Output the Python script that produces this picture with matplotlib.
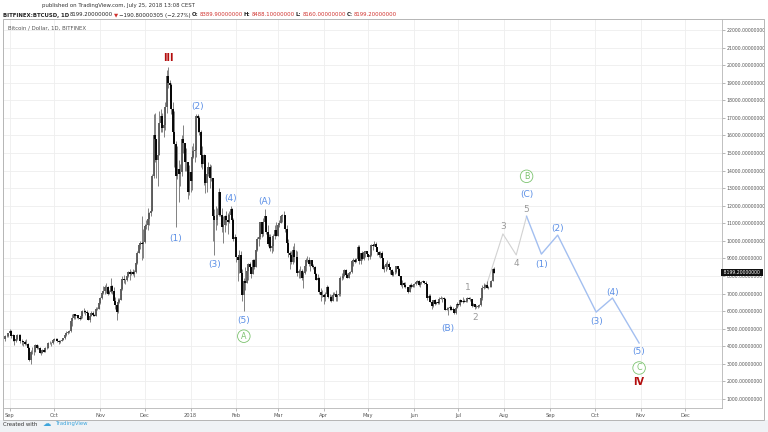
import matplotlib
matplotlib.use("Agg")
import matplotlib.pyplot as plt
import matplotlib.dates as mdates
from matplotlib.patches import Rectangle
import matplotlib.transforms as mtransforms
import numpy as np
import pandas as pd

# ---- daily BITFINEX BTCUSD candles, 2017-08-29 .. 2018-07-25 ----
first_open = 4390
close = [4580, 4570, 4740,
         # Sep
         4900, 4580, 4630, 4300, 4430, 4620, 4650, 4300, 4320, 4230,
         4160, 4130, 3880, 3200, 3700, 3700, 3700, 4100, 3900, 3900,
         3620, 3620, 3790, 3680, 3930, 3890, 4210, 4200, 4170, 4360,
         # Oct
         4400, 4400, 4310, 4220, 4330, 4380, 4450, 4620, 4780, 4790,
         4850, 5440, 5640, 5830, 5700, 5760, 5600, 5580, 5710, 6000,
         6020, 5980, 5900, 5520, 5750, 5900, 5780, 5750, 6150, 6130, 6450,
         # Nov
         6740, 7030, 7160, 7380, 7400, 6980, 7120, 7460, 7150, 6600,
         6350, 5950, 6550, 6630, 7280, 7820, 7790, 7800, 8010, 8250,
         8100, 8250, 8100, 8250, 8750, 9330, 9750, 9900, 9850, 9950,
         # Dec
         10850, 10900, 11250, 11600, 11700, 13700, 16000, 15800, 14600, 14900,
         16700, 17100, 16400, 16600, 17600, 19400, 19000, 18900, 17500, 16200,
         15500, 13700, 14100, 13800, 13900, 15800, 15600, 14500, 14500, 12800, 13900,
         # Jan
         13400, 14800, 15100, 15200, 17100, 17000, 16200, 14900, 14400, 14900,
         13300, 13800, 14200, 13600, 13600, 11400, 11200, 11200, 11500, 12800,
         11500, 10800, 10900, 11400, 11200, 11100, 11500, 11800, 11200, 10100, 10200,
         # Feb
         9100, 8900, 9200, 8200, 6900, 7700, 7600, 8300, 8700, 8500,
         8100, 8900, 8500, 9500, 10100, 10200, 11100, 10400, 11100, 11400,
         10500, 9800, 10200, 9600, 9700, 10300, 10600, 10300,
         # Mar
         10900, 11000, 11400, 11500, 11500, 10700, 9900, 9300, 9200, 8800,
         9500, 9100, 9100, 8200, 8300, 8300, 7900, 8200, 8600, 8900,
         8900, 8700, 8900, 8600, 8500, 8100, 7800, 7900, 7100, 6900, 6900,
         # Apr
         6800, 7000, 7400, 6800, 6800, 6600, 6900, 7000, 6800, 6900,
         6950, 7900, 7900, 8000, 8350, 8050, 7900, 8150, 8250, 8850,
         8900, 8800, 8950, 9650, 8850, 9300, 8950, 9350, 9400, 9250,
         # May
         9070, 9200, 9750, 9700, 9850, 9650, 9370, 9200, 9300, 9000,
         8400, 8500, 8700, 8700, 8500, 8350, 8050, 8250, 8250, 8550,
         8400, 8000, 7500, 7600, 7480, 7350, 7350, 7120, 7480, 7400, 7500,
         # Jun
         7530, 7640, 7720, 7500, 7630, 7650, 7690, 7620, 7530, 6770,
         6880, 6550, 6300, 6650, 6400, 6500, 6470, 6700, 6750, 6760,
         6720, 6050, 6150, 6200, 6250, 6080, 6150, 5880, 6200, 6390,
         # Jul
         6350, 6620, 6520, 6600, 6550, 6600, 6760, 6720, 6680, 6300,
         6400, 6250, 6230, 6280, 6360, 6740, 7320, 7380, 7470, 7330,
         7400, 7400, 7720, 8400, 8199.2]

high = [4650, 4640, 4770,
        4980, 4950, 4720, 4600, 4480, 4700, 4720, 4680, 4430, 4320,
        4350, 4400, 4180, 3950, 3780, 3940, 3800, 4150, 4150, 4050,
        3950, 3760, 3820, 3800, 3960, 3980, 4240, 4290, 4250, 4390,
        4470, 4480, 4460, 4380, 4370, 4430, 4490, 4640, 4890, 4900,
        4920, 5450, 5860, 5850, 5860, 5800, 5780, 5620, 5740, 6060,
        6190, 6080, 6060, 5980, 5800, 5990, 5990, 5850, 6230, 6220, 6470,
        6780, 7150, 7450, 7500, 7600, 7440, 7200, 7900, 7470, 7350,
        6800, 6500, 6750, 6750, 7370, 7980, 8050, 7850, 8060, 8300,
        8400, 8300, 8380, 8350, 8800, 9450, 9800, 10000, 11400, 10700,
        10950, 11200, 11850, 11650, 11900, 13800, 17200, 17300, 15800, 15700,
        17400, 17500, 17300, 16900, 17900, 19700, 19890, 19150, 19000, 17900,
        17400, 15700, 15400, 14600, 14400, 16000, 16600, 15600, 15300, 14500, 14300,
        13900, 15400, 15600, 15400, 17200, 17250, 17100, 16300, 15400, 14950,
        14900, 14100, 14500, 14400, 14300, 13600, 11800, 12000, 11900, 13000,
        12800, 11900, 11400, 11500, 11700, 11600, 11700, 12000, 11900, 11300, 10400,
        10200, 9200, 9500, 9400, 8400, 7900, 8500, 8600, 8750, 8800,
        8500, 8950, 8950, 9500, 10200, 10300, 11100, 11100, 11300, 11800,
        11300, 10900, 10400, 10400, 9900, 10400, 10900, 11100,
        11000, 11200, 11500, 11550, 11700, 11500, 10900, 10100, 9400, 9400,
        9700, 9900, 9500, 9400, 8400, 8600, 8400, 8300, 8700, 9000,
        9150, 9100, 8900, 8800, 8700, 8550, 8200, 8100, 7950, 7300, 7200,
        7000, 7100, 7500, 7450, 6950, 6900, 7100, 7100, 7200, 6950,
        6980, 8000, 8200, 8200, 8400, 8400, 8200, 8200, 8300, 8900,
        9000, 9000, 9000, 9750, 9750, 9300, 9400, 9400, 9450, 9430,
        9250, 9250, 9800, 9800, 9990, 9950, 9650, 9450, 9400, 9400,
        9000, 8650, 8800, 8900, 8800, 8500, 8400, 8300, 8350, 8600,
        8550, 8450, 8020, 7750, 7650, 7650, 7400, 7380, 7550, 7600, 7560,
        7600, 7700, 7760, 7760, 7650, 7700, 7750, 7700, 7700, 7500,
        6950, 6950, 6600, 6650, 6680, 6550, 6600, 6800, 6850, 6800,
        6800, 6750, 6250, 6250, 6350, 6300, 6250, 6150, 6300, 6500,
        6420, 6700, 6650, 6800, 6700, 6650, 6800, 6800, 6800, 6700,
        6450, 6400, 6350, 6350, 6400, 6800, 7480, 7580, 7560, 7700,
        7450, 7580, 7800, 8480, 8488.1]

low = [4300, 4520, 4540,
       4720, 4480, 4320, 4100, 4220, 4380, 4530, 4200, 4100, 4000,
       4100, 4050, 3780, 3190, 2980, 3550, 3520, 3700, 3850, 3850,
       3600, 3530, 3600, 3650, 3650, 3850, 3890, 4160, 4000, 4150,
       4290, 4340, 4230, 4150, 4180, 4300, 4350, 4440, 4570, 4730,
       4760, 4840, 5180, 5570, 5530, 5630, 5560, 5500, 5530, 5600,
       5880, 5800, 5650, 5520, 5400, 5730, 5700, 5700, 5700, 6060, 6100,
       6420, 6700, 6950, 6950, 7050, 6940, 6950, 7050, 7000, 6470,
       6140, 5500, 5900, 6450, 6640, 7230, 7630, 7550, 7720, 7960,
       7800, 8070, 8050, 7960, 8180, 8710, 9330, 9550, 8900, 9000,
       9900, 10700, 10600, 10900, 11400, 11700, 13600, 14500, 13600, 13100,
       14900, 16200, 16200, 15900, 16300, 17300, 18700, 17900, 17200, 15600,
       14200, 10800, 13500, 12200, 13100, 13700, 15000, 14000, 14000, 12400, 12600,
       12800, 12900, 14700, 14500, 14800, 16200, 16000, 14200, 14100, 13200,
       12700, 12800, 13700, 13000, 13400, 10000, 9200, 10600, 10900, 11400,
       11400, 10500, 9900, 10500, 10900, 10400, 11000, 11500, 11100, 10000, 9700,
       8800, 7700, 8200, 8100, 6600, 6000, 7200, 7600, 7800, 8200,
       7900, 8100, 8400, 8500, 9400, 9700, 10100, 10200, 10300, 11000,
       10400, 9700, 9600, 9400, 9300, 9400, 10100, 10300,
       10300, 10800, 11000, 11100, 11300, 10500, 9400, 9100, 8400, 8700,
       8700, 8800, 9000, 8000, 7900, 7900, 7800, 7300, 8100, 8300,
       8800, 8600, 8300, 8500, 8400, 8000, 7750, 7800, 7000, 6600, 6800,
       6400, 6600, 6950, 6750, 6600, 6500, 6600, 6950, 6600, 6600,
       6880, 6850, 7800, 7850, 8000, 8000, 7900, 7880, 8100, 8200,
       8600, 8750, 8800, 8900, 8700, 8700, 8900, 8900, 9100, 9150,
       8900, 8950, 9150, 9500, 9700, 9450, 9200, 9100, 9000, 9000,
       8400, 8250, 8300, 8400, 8400, 8100, 8000, 8000, 8100, 8200,
       8250, 7980, 7450, 7300, 7350, 7320, 7300, 7050, 7070, 7300, 7400,
       7350, 7500, 7600, 7450, 7400, 7550, 7650, 7550, 7500, 6650,
       6650, 6500, 6150, 6250, 6350, 6400, 6400, 6430, 6700, 6550,
       6650, 6050, 6050, 5780, 6050, 6050, 6030, 5850, 5850, 6200,
       6300, 6320, 6500, 6450, 6500, 6500, 6500, 6700, 6600, 6250,
       6300, 6100, 6180, 6200, 6250, 6300, 6650, 7250, 7300, 7320,
       7250, 7350, 7350, 7700, 8160]

# ---- projected waves (gray = minor, blue = intermediate) ----
minor_dates = ["2018-07-20", "2018-07-31", "2018-08-09", "2018-08-16"]
minor_prices = [7500, 10400, 9200, 11400]
inter_dates = ["2018-08-16", "2018-08-26", "2018-09-06", "2018-10-02", "2018-10-13", "2018-10-31"]
inter_prices = [11400, 9250, 10330, 5950, 6750, 4190]

month_ticks = pd.date_range("2017-09-01", "2018-12-01", freq="MS")
month_labels = ["Sep", "Oct", "Nov", "Dec", "2018", "Feb", "Mar", "Apr", "May",
                "Jun", "Jul", "Aug", "Sep", "Oct", "Nov", "Dec"]
price_ticks = list(range(1000, 23000, 1000))
last_price = 8199.2

W, H = 768, 432
BLUE = "#5b8fe6"
BLUE_LINE = "#a3bff0"
GRAY = "#9a9a9a"
GREEN = "#7cc36f"
DARKRED = "#b30d0d"

close = np.array(close, float)
high = np.array(high, float)
low = np.array(low, float)
opn = np.concatenate([[first_open], close[:-1]])
high = np.maximum(high, np.maximum(opn, close))
low = np.minimum(low, np.minimum(opn, close))
dates = pd.date_range("2017-08-29", periods=len(close), freq="D")
x = mdates.date2num(dates.to_pydatetime())

fig = plt.figure(figsize=(W / 100, H / 100), dpi=100)
fig.patch.set_facecolor("white")
ax = fig.add_axes([4 / W, 24 / H, 718 / W, 389 / H])

# grid
for p in price_ticks:
    ax.axhline(p, color="#eeeeee", lw=0.6, zorder=0)
for m in month_ticks:
    ax.axvline(mdates.date2num(m.to_pydatetime()), color="#eeeeee", lw=0.6, zorder=0)

# projection lines
ax.plot(mdates.date2num(pd.to_datetime(minor_dates).to_pydatetime()), minor_prices,
        color="#d2d2d2", lw=0.8, zorder=1)
ax.plot(mdates.date2num(pd.to_datetime(inter_dates).to_pydatetime()), inter_prices,
        color=BLUE_LINE, lw=1.0, zorder=1)

# candles
up = close >= opn
ax.vlines(x, low, high, color="#6e6e6e", lw=0.6, zorder=2)
ax.vlines(x[up], opn[up], close[up], color="#5a5a5a", lw=1.35, zorder=3)
ax.vlines(x[~up], close[~up], opn[~up], color="#000000", lw=1.35, zorder=3)

ax.set_xlim(mdates.date2num(pd.Timestamp("2017-08-28").to_pydatetime()),
            mdates.date2num(pd.Timestamp("2018-12-26").to_pydatetime()))
ax.set_ylim(490, 22630)

ax.set_xticks(mdates.date2num(month_ticks.to_pydatetime()))
ax.set_xticklabels(month_labels)
ax.set_yticks(price_ticks)
ax.set_yticklabels(["%.8f" % p for p in price_ticks])
ax.yaxis.tick_right()
ax.tick_params(axis="y", length=2, width=0.5, color="#999999", labelsize=3.3,
               labelcolor="#555555", pad=1.5)
ax.tick_params(axis="x", length=2, width=0.5, color="#999999", labelsize=3.7,
               labelcolor="#555555", pad=1.5)
for s in ax.spines.values():
    s.set_color("#b5b5b5")
    s.set_linewidth(0.6)
ax.spines["left"].set_visible(False)
ax.spines["top"].set_visible(False)

# last price tag
tr = mtransforms.blended_transform_factory(ax.transAxes, ax.transData)
ax.text(1.0, last_price, " %.8f " % last_price, transform=tr, fontsize=3.3,
        color="white", ha="left", va="center", zorder=10, clip_on=False,
        bbox=dict(boxstyle="square,pad=0.25", fc="#111111", ec="none"))

# wave labels
def lab(text, date, price, dy_px, color, size=6.5, weight="normal", circle=False):
    xd = mdates.date2num(pd.Timestamp(date).to_pydatetime())
    kw = {}
    if circle:
        kw["bbox"] = dict(boxstyle="circle,pad=0.22", fc="white", ec=GREEN, lw=0.6)
    ax.annotate(text, (xd, price), xytext=(0, dy_px * 0.72), textcoords="offset points",
                ha="center", va="center", fontsize=size, color=color,
                fontweight=weight, zorder=8, **kw)

lab("III", "2017-12-17", 19890, 9, DARKRED, 7, "bold")
lab("(1)", "2017-12-22", 10800, -12, BLUE)
lab("(2)", "2018-01-06", 17250, 7, BLUE)
lab("(3)", "2018-01-17", 9200, -10, BLUE)
lab("(4)", "2018-01-28", 12000, 7, BLUE)
lab("(5)", "2018-02-06", 6000, -9, BLUE)
lab("A", "2018-02-06", 6000, -25, GREEN, 5.8, circle=True)
lab("(A)", "2018-02-20", 11800, 8, BLUE)
lab("(B)", "2018-06-24", 5780, -13, BLUE)
lab("1", "2018-07-07", 6800, 10, GRAY)
lab("2", "2018-07-12", 6100, -8, GRAY)
lab("3", minor_dates[1], minor_prices[1], 7, GRAY)
lab("4", minor_dates[2], minor_prices[2], -9, GRAY)
lab("5", minor_dates[3], minor_prices[3], 7, GRAY)
lab("(C)", minor_dates[3], minor_prices[3], 22, BLUE)
lab("B", minor_dates[3], minor_prices[3], 40, GREEN, 5.8, circle=True)
lab("(1)", inter_dates[1], inter_prices[1], -10, BLUE)
lab("(2)", inter_dates[2], inter_prices[2], 7, BLUE)
lab("(3)", inter_dates[3], inter_prices[3], -9, BLUE)
lab("(4)", inter_dates[4], inter_prices[4], 6, BLUE)
lab("(5)", inter_dates[5], inter_prices[5], -9, BLUE)
lab("C", inter_dates[5], inter_prices[5], -25, GREEN, 5.8, circle=True)
lab("IV", inter_dates[5], inter_prices[5], -39, DARKRED, 7, "bold")

# frame and bottom band
fig.add_artist(Rectangle((0, 0), 1, 12 / H, transform=fig.transFigure,
                         fc="#eff2f5", ec="none", zorder=0))
fig.add_artist(Rectangle((3 / W, 12 / H), 761 / W, 401 / H, transform=fig.transFigure,
                         fc="none", ec="#b5b5b5", lw=0.7, zorder=5))

fig.text(8 / W, 1 - 28 / H, "Bitcoin / Dollar, 1D, BITFINEX", fontsize=3.9,
         color="#555555", va="center", ha="left")
fig.text(42 / W, 1 - 6 / H, "published on TradingView.com, July 25, 2018 13:08 CEST",
         fontsize=3.9, color="#333333", va="center", ha="left")

renderer = fig.canvas.get_renderer()

def row(pieces, x0, y, size):
    xx = x0
    for s, col, wt in pieces:
        t = fig.text(xx / W, 1 - y / H, s, fontsize=size, color=col, fontweight=wt,
                     va="center", ha="left")
        bb = t.get_window_extent(renderer)
        xx = bb.x1 + 1.0

RED = "#d0312d"
row([("BITFINEX:BTCUSD, 1D", "#222222", "bold"),
     ("8199.20000000", "#222222", "normal"),
     ("\u25bc", RED, "normal"),
     ("\u2212190.80000305 (\u22122.27%)", "#222222", "normal"),
     ("O:", "#222222", "bold"), ("8389.90000000", RED, "normal"),
     ("H:", "#222222", "bold"), ("8488.10000000", RED, "normal"),
     ("L:", "#222222", "bold"), ("8160.00000000", RED, "normal"),
     ("C:", "#222222", "bold"), ("8199.20000000", RED, "normal")],
    3, 15, 3.9)

fig.text(3 / W, 1 - 424 / H, "Created with", fontsize=3.9, color="#333333",
         va="center", ha="left")
fig.text(43 / W, 1 - 424 / H, "\u2601", fontsize=6, color="#3da5dc",
         va="center", ha="left")
fig.text(55 / W, 1 - 424 / H, "TradingView", fontsize=3.9, color="#3da5dc",
         va="center", ha="left")

fig.savefig("out.png", dpi=100)
